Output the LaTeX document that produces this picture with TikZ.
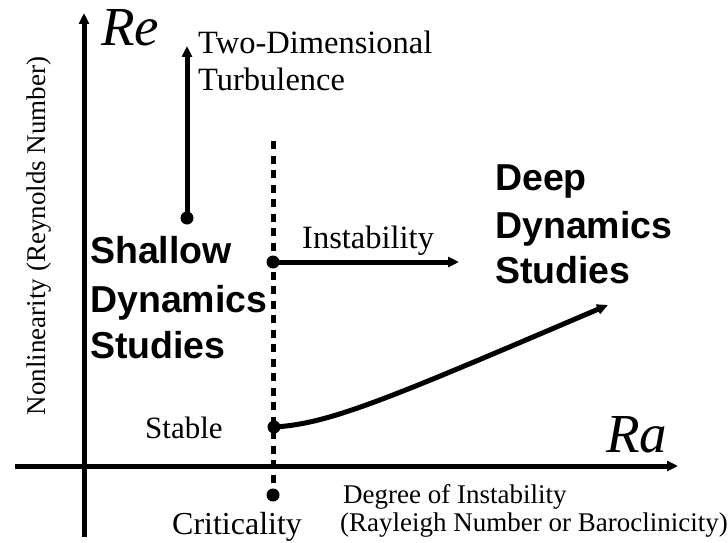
\documentclass[tikz,border=0pt]{standalone}
\usepackage{fontspec}
\setmainfont{Liberation Serif}
\newfontfamily\hel{Liberation Sans}
\usetikzlibrary{arrows.meta}
\tikzset{
  thickline/.style={line width=5pt},
  arr/.style={thickline,-{Triangle[length=11pt,width=10pt]}},
  dotc/.style={fill=black},
  lbl/.style={inner sep=0pt,font=\fontsize{32.5}{38}\selectfont},
  big/.style={inner sep=0pt,font=\hel\bfseries\fontsize{37.5}{45}\selectfont},
  axlbl/.style={inner sep=0pt,font=\itshape\fontsize{55}{64}\selectfont},
  small/.style={inner sep=0pt,font=\fontsize{27}{32}\selectfont}
}
\begin{document}
\begin{tikzpicture}[x=1pt,y=-1pt]
\useasboundingbox (0,0) rectangle (728,543);
% coordinates
\coordinate (vb) at (84,537);
\coordinate (vt) at (84,13);
\coordinate (hl) at (15,466);
\coordinate (hr) at (678,466);
\coordinate (dtop) at (273,141);
\coordinate (dbot) at (273,490);
\coordinate (tdot) at (187,218);
\coordinate (ttip) at (187,46);
\coordinate (idot) at (273,262);
\coordinate (itip) at (459,262);
\coordinate (sdot) at (274,427);
\coordinate (stip) at (608,305);
\coordinate (cdot) at (273,495);
% axes
\draw[arr] (vb) -- (vt);
\draw[arr] (hl) -- (hr);
% dashed criticality line
\draw[line width=5pt,dash pattern=on 8pt off 6.5pt] (dtop) -- (dbot);
% arrows
\draw[arr] (tdot) -- (ttip);
\draw[arr] (idot) -- (itip);
\draw[arr] (sdot) .. controls (330,424) and (390,398) .. (stip);
% dots
\foreach \p in {tdot,idot,sdot,cdot} \fill[dotc] (\p) circle (6.5pt);
% labels
\node[axlbl,anchor=base west] (re) at (101,46) {Re};
\node[axlbl,anchor=base west] (ra) at (606,452) {Ra};
\node[lbl,anchor=base west] (two) at (198,53) {Two-Dimensional};
\node[lbl,anchor=base west] (turb) at (198,90) {Turbulence};
\node[lbl,anchor=base west] (inst) at (302,248) {Instability};
\node[lbl,anchor=base west,font=\fontsize{31}{36}\selectfont] (stab) at (145,438) {Stable};
\node[lbl,anchor=base west,font=\fontsize{32}{38}\selectfont] (crit) at (172,534) {Criticality};
\node[small,anchor=base west] (deg1) at (343,503) {Degree of Instability};
\node[small,anchor=base west] (deg2) at (340,531) {(Rayleigh Number or Baroclinicity)};
\node[small,anchor=base,rotate=90] (nonlin) at (45,236) {Nonlinearity (Reynolds Number)};
\node[big,anchor=base west] (sh1) at (90,263) {Shallow};
\node[big,anchor=base west] (sh2) at (90,312) {Dynamics};
\node[big,anchor=base west] (sh3) at (90,358) {Studies};
\node[big,anchor=base west] (dp1) at (495,190) {Deep};
\node[big,anchor=base west] (dp2) at (495,238) {Dynamics};
\node[big,anchor=base west] (dp3) at (495,283) {Studies};
\end{tikzpicture}
\end{document}
